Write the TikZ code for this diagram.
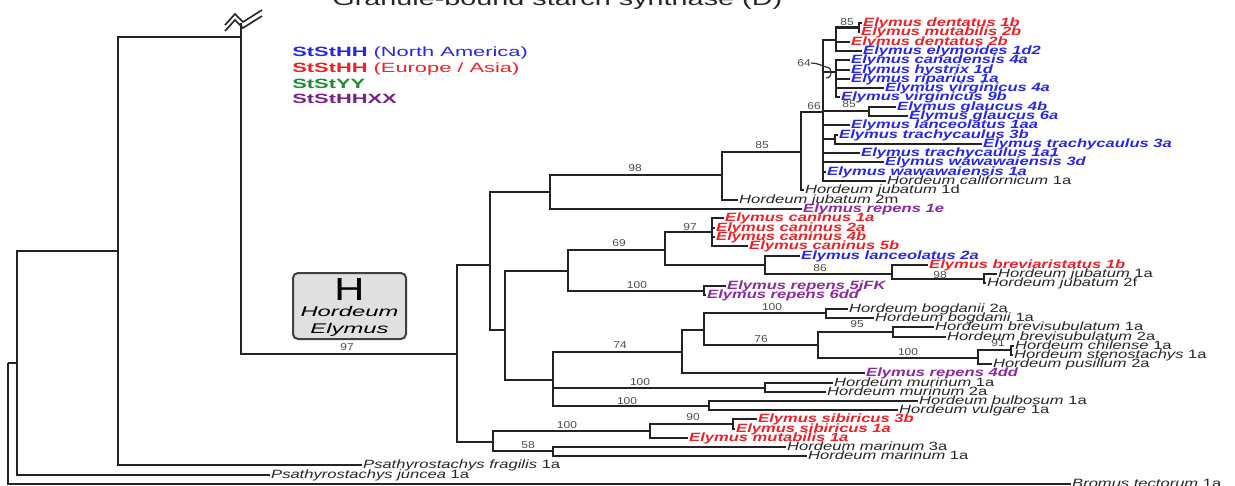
\documentclass[tikz,border=0pt]{standalone}
\usepackage{fontspec}
\setmainfont{Liberation Sans}
\newfontfamily\tipfam[FakeStretch=1.38]{Liberation Sans}
\newfontfamily\bootfam[FakeStretch=1.2]{Liberation Sans}
\newfontfamily\legfam[FakeStretch=1.63]{Liberation Sans}
\newfontfamily\boxfam[FakeStretch=1.7]{Liberation Sans}
\newfontfamily\bigfam[FakeStretch=1.3]{Liberation Sans}
\newfontfamily\ttlfam[FakeStretch=1.5]{Liberation Sans}
\definecolor{elblue}{RGB}{40,40,225}
\definecolor{elred}{RGB}{235,35,40}
\definecolor{elgreen}{RGB}{30,140,50}
\definecolor{elpurple}{RGB}{140,40,160}
\definecolor{treeline}{RGB}{35,35,35}

\begin{document}
\begin{tikzpicture}[x=0.5pt, y=-0.5pt,
        branch/.style={draw=treeline, line width=1.1pt},
        taxon/.style={anchor=west, inner sep=0.4pt, text height=4.4pt, text depth=1.1pt,
            font=\tipfam\fontsize{6}{7}\selectfont},
        hrd/.style={taxon, text=black!85},
        elym/.style={taxon, font=\tipfam\fontsize{6}{7}\selectfont\bfseries\itshape},
        eur/.style={elym, text=elred},
        ame/.style={elym, text=elblue},
        hxx/.style={elym, text=elpurple},
        boot/.style={inner sep=0pt, text=black!70, font=\bootfam\fontsize{5}{6}\selectfont},
        leg/.style={anchor=base west, inner sep=0pt, font=\legfam\fontsize{6.7}{8}\selectfont}]
        \useasboundingbox (0,0) rectangle (1235,486);
        \clip (0,0) rectangle (1235,486);
        \fill[white] (0,0) rectangle (1235,486);
        \node[anchor=base west, inner sep=0pt, text=black!85, font=\ttlfam\fontsize{9.6}{11}\selectfont]
            (title) at (332,6) {Granule-bound starch synthase (D)};
        \node[leg, text=elblue] (lgA) at (292,57) {\textbf{StStHH} (North America)};
        \node[leg, text=elred] (lgB) at (292,73) {\textbf{StStHH} (Europe / Asia)};
        \node[leg, text=elgreen] (lgC) at (292,89) {\textbf{StStYY}};
        \node[leg, text=elpurple!85!black] (lgD) at (292,104) {\textbf{StStHHXX}};
        \foreach \n/\x/\y/\s/\t in {
            dent1b/862/23/eur/{Elymus dentatus 1b}, mut2b/860/32/eur/{Elymus mutabilis 2b},
            dent2b/850/42/eur/{Elymus dentatus 2b}, elym1d2/862/51/ame/{Elymus elymoides 1d2},
            can4a/850/60/ame/{Elymus canadensis 4a}, hys1d/850/70/ame/{Elymus hystrix 1d},
            rip1a/850/79/ame/{Elymus riparius 1a}, vir4a/884/88/ame/{Elymus virginicus 4a},
            vir9b/840/97/ame/{Elymus virginicus 9b}, gla4b/896/107/ame/{Elymus glaucus 4b},
            gla6a/908/116/ame/{Elymus glaucus 6a}, lan1aa/850/125/ame/{Elymus lanceolatus 1aa},
            tra3b/838/135/ame/{Elymus trachycaulus 3b}, tra3a/982/144/ame/{Elymus trachycaulus 3a},
            tra1a1/860/153/ame/{Elymus trachycaulus 1a1}, waw3d/884/162/ame/{Elymus wawawaiensis 3d},
            waw1a/826/172/ame/{Elymus wawawaiensis 1a}, cal1a/886/181/hrd/{\textit{Hordeum californicum} 1a},
            jub1d/804/190/hrd/{\textit{Hordeum jubatum} 1d}, jub2m/738/200/hrd/{\textit{Hordeum jubatum} 2m},
            rep1e/802/209/hxx/{Elymus repens 1e}, can1a/724/218/eur/{Elymus caninus 1a},
            can2a/715/228/eur/{Elymus caninus 2a}, can4b/715/237/eur/{Elymus caninus 4b},
            can5b/748/246/eur/{Elymus caninus 5b}, lan2a/800/256/ame/{Elymus lanceolatus 2a},
            bre1b/928/265/eur/{Elymus breviaristatus 1b}, jub1a/997/274/hrd/{\textit{Hordeum jubatum} 1a},
            jub2f/986/283/hrd/{\textit{Hordeum jubatum} 2f}, rep5j/726/286/hxx/{Elymus repens 5jFK},
            rep6dd/706/295/hxx/{Elymus repens 6dd}, bog2a/848/309/hrd/{\textit{Hordeum bogdanii} 2a},
            bog1a/874/318/hrd/{\textit{Hordeum bogdanii} 1a}, brs1a/934/327/hrd/{\textit{Hordeum brevisubulatum} 1a},
            brs2a/946/337/hrd/{\textit{Hordeum brevisubulatum} 2a}, chi1a/1014/346/hrd/{\textit{Hordeum chilense} 1a},
            ste1a/1013/355/hrd/{\textit{Hordeum stenostachys} 1a}, pus2a/992/364/hrd/{\textit{Hordeum pusillum} 2a},
            rep4dd/865/373/hxx/{Elymus repens 4dd}, mur1a/833/383/hrd/{\textit{Hordeum murinum} 1a},
            mur2a/826/392/hrd/{\textit{Hordeum murinum} 2a}, bul1a/918/401/hrd/{\textit{Hordeum bulbosum} 1a},
            vul1a/898/410/hrd/{\textit{Hordeum vulgare} 1a}, sib3b/757/419/eur/{Elymus sibiricus 3b},
            sib1a/735/429/eur/{Elymus sibiricus 1a}, mut1a/688/438/eur/{Elymus mutabilis 1a},
            mar3a/786/447/hrd/{\textit{Hordeum marinum} 3a}, mar1a/807/456/hrd/{\textit{Hordeum marinum} 1a},
            fra1a/362/465/hrd/{\textit{Psathyrostachys fragilis} 1a}, jun1a/270/475/hrd/{\textit{Psathyrostachys juncea} 1a},
            bro1a/1071/484/hrd/{\textit{Bromus tectorum} 1a}} {
            \node[\s] (\n) at (\x,\y) {\t};
        }
        \foreach \n/\x/\y in {nroot/8/363, na/17/363, nb/118/251, nc/241/37, nd/457/354, ne/490/265,
            nf/505/330, ng/568/271, nh/665/250, ni/712/232, nj/765/265, nk/892/274, nl/984/279,
            nm/704/291, nn/553/380, no/682/352, np/704/330, nq/826/313, nr/818/345, ns/893/332,
            nt/978/358, nu/1011/350, nv/765/388, nw/709/406, nx/493/442, ny/650/431, nz/733/424,
            nmar/553/451, n98/550/192, n85/722/175, n85b/801/152, n66/823/112, ntop/836/40,
            n85c/859/27.5, n64/836/72, ngl/869/111, ntr/835/139} {
            \coordinate (\n) at (\x,\y);
        }
        \foreach \p/\c in {nroot/na, nroot/bro1a, na/nb, na/jun1a, nb/nc, nb/fra1a, nc/nd,
            nd/ne, nd/nx, ne/n98, ne/nf, n98/n85, n98/rep1e, n85/n85b, n85/jub2m,
            n85b/n66, n85b/jub1d, n66/ntop, n66/n64, n66/ngl, n66/lan1aa, n66/ntr,
            n66/tra1a1, n66/waw3d, n66/waw1a, n66/cal1a, ntop/n85c, ntop/dent2b, ntop/elym1d2,
            n85c/dent1b, n85c/mut2b, n64/can4a, n64/hys1d, n64/rip1a, n64/vir4a, n64/vir9b,
            ngl/gla4b, ngl/gla6a, ntr/tra3b, ntr/tra3a, nf/ng, nf/nn, ng/nh, ng/nm,
            nh/ni, nh/nj, ni/can1a, ni/can2a, ni/can4b, ni/can5b, nj/lan2a, nj/nk,
            nk/bre1b, nk/nl, nl/jub1a, nl/jub2f, nm/rep5j, nm/rep6dd, nn/no, nn/nv, nn/nw,
            no/np, no/rep4dd, np/nq, np/nr, nq/bog2a, nq/bog1a, nr/ns, nr/nt,
            ns/brs1a, ns/brs2a, nt/nu, nt/pus2a, nu/chi1a, nu/ste1a, nv/mur1a, nv/mur2a,
            nw/bul1a, nw/vul1a, nx/ny, nx/nmar, ny/nz, ny/mut1a, nz/sib3b, nz/sib1a,
            nmar/mar3a, nmar/mar1a} {
            \draw[branch] (\p) |- (\c);
        }
        \foreach \x/\y/\v [count=\k] in {847/22/85, 804/63/64, 814/106/66, 849/104/85, 762/145/85,
            635/168/98, 690/227/97, 619/243/69, 820/268/86, 940/275/98, 637/285/100,
            772/307/100, 857/324/95, 761/339/76, 998/343/91, 908/352/100, 620/345/74,
            640/382/100, 627/401/100, 693/417/90, 567/425/100, 528/445/58, 347/347/97} {
            \node[boot] (bs\k) at (\x,\y) {\v};
        }
        \draw[line width=0.6pt, black!80] (bs2.east) .. controls (818,63) and (822,66) .. (826,67)
            .. controls (833,67) and (833,78) .. (826,78);
        \draw[branch] (nc) -- (241,23);
        \draw[line width=0.8pt, treeline] (225,25) -- (235,14) -- (243,22) -- (262,10);
        \draw[line width=0.8pt, treeline] (225,31) -- (235,20) -- (243,28) -- (262,16);
        \node[draw=black!75, line width=1pt, fill=black!12, rounded corners=2.5pt,
            minimum width=56.5pt, minimum height=33pt, inner sep=0pt] (hbox) at (349.5,306) {};
        \node[anchor=base, inner sep=0pt, font=\bigfam\fontsize{16}{18}\selectfont] (hH) at (349.5,300) {H};
        \node[anchor=base, inner sep=0pt, font=\boxfam\fontsize{7}{8}\selectfont\itshape] (hHor) at (349.5,316) {Hordeum};
        \node[anchor=base, inner sep=0pt, font=\boxfam\fontsize{7}{8}\selectfont\itshape] (hEly) at (349.5,333) {Elymus};
\end{tikzpicture}
\end{document}
